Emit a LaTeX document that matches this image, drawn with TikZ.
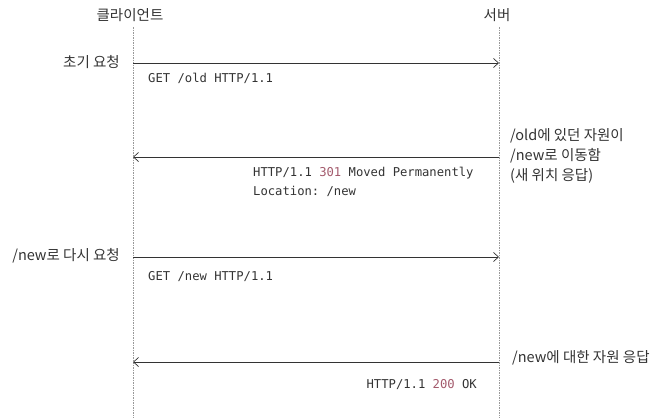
\documentclass[tikz,border=0pt]{standalone}
\usepackage{fontspec}
\setmonofont{DejaVu Sans Mono}
\newfontfamily\kr{Noto Sans CJK KR}
\usetikzlibrary{arrows.meta}
\definecolor{ink}{HTML}{333333}
\definecolor{code}{HTML}{A35A6C}
\begin{document}
\begin{tikzpicture}[x=1pt,y=-1pt,
  life/.style={gray!80,line width=0.8pt,dash pattern=on 1.5pt off 1pt},
  msg/.style={ink,line width=0.7pt,-{Straight Barb[length=5pt,width=9pt]}},
  krtxt/.style={ink,font=\kr\fontsize{14.5}{20}\selectfont,inner sep=0pt},
  mono/.style={ink,font=\ttfamily\fontsize{12.2}{19}\selectfont,inner sep=0pt}]
\useasboundingbox (0,0) rectangle (664,418);
\node[krtxt] (client) at (130,15) {클라이언트};
\node[krtxt] (server) at (497,15) {서버};
\coordinate (ctop) at (133,27);
\coordinate (cbot) at (133,418);
\coordinate (stop) at (499,27);
\coordinate (sbot) at (499,418);
\draw[life] (ctop) -- (cbot);
\draw[life] (stop) -- (sbot);
\coordinate (c1) at (133,63);
\coordinate (s1) at (499,63);
\coordinate (c2) at (133,157);
\coordinate (s2) at (499,157);
\coordinate (c3) at (133,257);
\coordinate (s3) at (499,257);
\coordinate (c4) at (133,362);
\coordinate (s4) at (499,362);
\draw[msg] (c1) -- (s1);
\draw[msg] (s2) -- (c2);
\draw[msg] (c3) -- (s3);
\draw[msg] (s4) -- (c4);
\node[krtxt,anchor=east] (first) at (120,62) {초기 요청};
\node[mono,anchor=base west] (getold) at (148,82) {GET /old HTTP/1.1};
\node[mono,anchor=base west] (moved) at (253,176) {HTTP/1.1 \textcolor{code}{301} Moved Permanently};
\node[mono,anchor=base west] (location) at (253,195) {Location: /new};
\node[krtxt,anchor=west,align=left] (movednote) at (510,156) {/old에 있던 자원이\\/new로 이동함\\(새 위치 응답)};
\node[krtxt,anchor=east] (again) at (120,256) {/new로 다시 요청};
\node[mono,anchor=base west] (getnew) at (148,280) {GET /new HTTP/1.1};
\node[krtxt,anchor=west] (oknote) at (512,358) {/new에 대한 자원 응답};
\node[mono,anchor=base east] (ok) at (477,388) {HTTP/1.1 \textcolor{code}{200} OK};
\end{tikzpicture}
\end{document}
